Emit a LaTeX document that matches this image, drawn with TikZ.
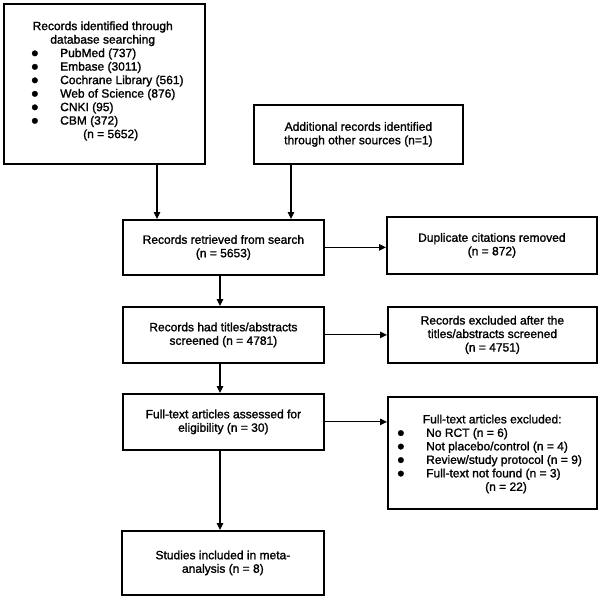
\documentclass[tikz,border=0pt]{standalone}
\usepackage{fontspec}
\setmainfont{Liberation Sans}[FakeBold=1.4]
\usetikzlibrary{arrows.meta}
\newcommand{\bul}{\smash{\raisebox{-3.2pt}{\fontsize{21}{0}\selectfont\textbullet}}}
\newcommand{\bitem}[1]{\makebox[29pt][l]{\bul}#1}
\begin{document}
\begin{tikzpicture}[x=1pt,y=-1pt,
  box/.style={draw, line width=1.8pt, inner sep=0pt, anchor=north west,
    font=\fontsize{12}{13.5}\selectfont, align=center},
  txt/.style={font=\fontsize{12}{13.5}\selectfont, inner sep=0pt, anchor=west, align=left},
  arr/.style={line width=1.1pt, -{Triangle[width=6.5pt,length=7pt]}}]
\useasboundingbox (0,0) rectangle (600,598);
% boxes
\node[box, minimum width=201pt, minimum height=160pt] (A) at (3,3) {};
\node[txt] (At) at (31,81) {%
  \makebox[143pt]{Records identified through}\\
  \makebox[143pt]{database searching}\\
  \bitem{PubMed (737)}\\
  \bitem{Embase (3011)}\\
  \bitem{Cochrane Library (561)}\\
  \bitem{Web of Science (876)}\\
  \bitem{CNKI (95)}\\
  \bitem{CBM (372)}\\
  \hspace*{52pt}(n = 5652)};
\node[box, minimum width=209pt, minimum height=59pt] (B) at (253,104)
  {Additional records identified\\ through other sources (n=1)};
\node[box, minimum width=201pt, minimum height=55pt] (C) at (122,219)
  {Records retrieved from search\\ (n = 5653)};
\node[box, minimum width=210pt, minimum height=57pt] (D) at (386,216)
  {Duplicate citations removed\\ (n = 872)};
\node[box, minimum width=201pt, minimum height=56pt] (E) at (122,306)
  {Records had titles/abstracts\\ screened (n = 4781)};
\node[box, minimum width=209pt, minimum height=56pt] (F) at (387,306)
  {Records excluded after the\\ titles/abstracts screened\\ (n = 4751)};
\node[box, minimum width=201pt, minimum height=56pt] (G) at (122,393)
  {Full-text articles assessed for\\ eligibility (n = 30)};
\node[box, minimum width=209pt, minimum height=112pt] (H) at (387,396) {};
\node[txt] (Ht) at (397,454) {%
  \makebox[190pt]{Full-text articles excluded:}\\
  \bitem{No RCT (n = 6)}\\
  \bitem{Not placebo/control (n = 4)}\\
  \bitem{Review/study protocol (n = 9)}\\
  \bitem{Full-text not found (n = 3)}\\
  \hspace*{88pt}(n = 22)};
\node[box, minimum width=202pt, minimum height=64pt] (I) at (121,530)
  {Studies included in meta-\\ analysis (n = 8)};
% helper x positions
\coordinate (xa) at (157,0);
\coordinate (xb) at (291,0);
\coordinate (xm) at (220,0);
% arrows
\draw[arr] (A.south -| xa) -- (C.north -| xa);
\draw[arr] (B.south -| xb) -- (C.north -| xb);
\draw[arr] (C.east) -- (C.east -| D.west);
\draw[arr] (C.south -| xm) -- (E.north -| xm);
\draw[arr] (E.east) -- (E.east -| F.west);
\draw[arr] (E.south -| xm) -- (G.north -| xm);
\draw[arr] (G.east) -- (G.east -| H.west);
\draw[arr] (G.south -| xm) -- (I.north -| xm);
\end{tikzpicture}
\end{document}
